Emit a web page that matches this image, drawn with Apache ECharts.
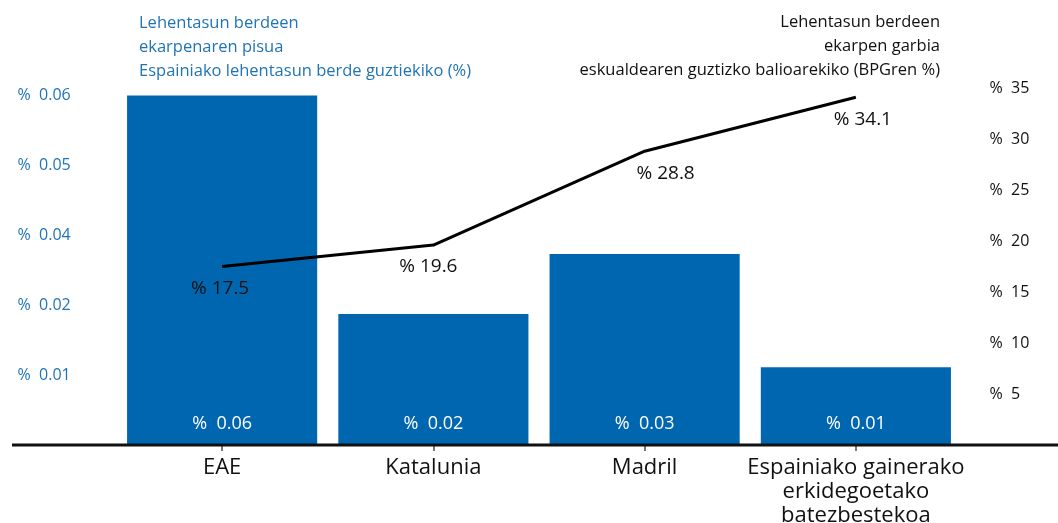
<!DOCTYPE html>
<html>
<head>
<meta charset="utf-8">
<script src="https://cdn.jsdelivr.net/npm/echarts@6/dist/echarts.min.js"></script>
<style>
  html, body { margin: 0; padding: 0; background: #fff; }
  #container { width: 1058px; height: 523px; }
</style>
</head>
<body>
<div id="container"></div>
<script>
// data
var categories = ['EAE', 'Katalunia', 'Madril', 'Espainiako gainerako\nerkidegoetako\nbatezbestekoa'];
var weightValues = [0.0624, 0.0234, 0.0341, 0.0139];   // bars, left axis
var netValues = [17.5, 19.6, 28.8, 34.1];               // line, right axis
var leftTickLabels = ['0.01', '0.02', '0.04', '0.05', '0.06'];
var leftStep = 0.0125;

var blue = '#0066b0';
var blueText = '#1f74b8';
var font = '"Open Sans", "Noto Sans", sans-serif';

// label nudges as seen in the original
var lineLabelShift = [-2, -5, 21, 7];

var dom = document.getElementById('container');
var myChart = echarts.init(dom);

var option = {
    backgroundColor: '#fff',
    animation: false,
    textStyle: { fontFamily: font },
    title: {
        text: 'Lehentasun berdeen\nekarpenaren pisua\nEspainiako lehentasun berde guztiekiko (%)',
        left: 134,
        top: 6,
        textStyle: { color: blueText, fontSize: 16.5, fontWeight: 'normal', lineHeight: 24, fontFamily: font }
    },
    grid: { left: 116.5, right: 96.5, top: 88, bottom: 78, containLabel: false, outerBoundsMode: 'none' },
    xAxis: {
        type: 'category',
        data: categories,
        axisLine: { show: false },
        axisTick: { show: true, alignWithLabel: true, length: 6, lineStyle: { color: '#777', width: 2 } },
        axisLabel: { color: '#111', fontSize: 22, lineHeight: 24, margin: 11, interval: 0 }
    },
    yAxis: [
        {
            type: 'value',
            min: 0,
            max: 0.06375,
            interval: leftStep,
            splitLine: { show: false },
            axisLine: { show: false },
            axisTick: { show: false },
            axisLabel: {
                color: blueText,
                fontSize: 16,
                align: 'left',
                margin: 99,
                formatter: function (v) {
                    var idx = Math.round(v / leftStep);
                    if (idx < 1 || Math.abs(v - idx * leftStep) > 1e-6) return '';
                    return '%  ' + leftTickLabels[idx - 1];
                }
            }
        },
        {
            type: 'value',
            min: 0,
            max: 35,
            interval: 5,
            splitLine: { show: false },
            axisLine: { show: false },
            axisTick: { show: false },
            axisLabel: {
                color: '#111',
                fontSize: 16,
                margin: 28,
                formatter: function (v) { return v === 0 ? '' : '%  ' + v; }
            }
        }
    ],
    series: [
        {
            name: 'pisua',
            type: 'bar',
            yAxisIndex: 0,
            data: weightValues,
            barCategoryGap: '10%',
            itemStyle: { color: blue },
            label: {
                show: true,
                position: 'insideBottom',
                distance: 12,
                color: '#fff',
                fontSize: 18,
                formatter: function (p) { return '%  ' + p.value.toFixed(2); }
            }
        },
        {
            name: 'garbia',
            type: 'line',
            yAxisIndex: 1,
            data: netValues.map(function (v, i) {
                return { value: v, label: { show: true, opacity: 1, offset: [lineLabelShift[i], 0] } };
            }),
            symbol: 'circle',
            symbolSize: 1,
            itemStyle: { color: '#000', opacity: 0 },
            lineStyle: { color: '#000', width: 3, opacity: 1 },
            label: {
                show: true,
                position: 'bottom',
                distance: 12,
                color: '#111',
                fontSize: 19,
                opacity: 1,
                formatter: function (p) { return '% ' + p.value.toFixed(1); }
            },
            z: 5
        }
    ],
    graphic: [
        {
            type: 'text',
            x: 940,
            y: 10,
            style: {
                text: 'Lehentasun berdeen\nekarpen garbia\neskualdearen guztizko balioarekiko (BPGren %)',
                align: 'right',
                verticalAlign: 'top',
                fill: '#111',
                font: '16.5px ' + font,
                lineHeight: 24
            }
        },
        {
            type: 'line',
            shape: { x1: 12, y1: 445, x2: 1058, y2: 445 },
            style: { stroke: '#111', lineWidth: 3 },
            z: 10
        }
    ]
};

myChart.setOption(option, true);
</script>
</body>
</html>
